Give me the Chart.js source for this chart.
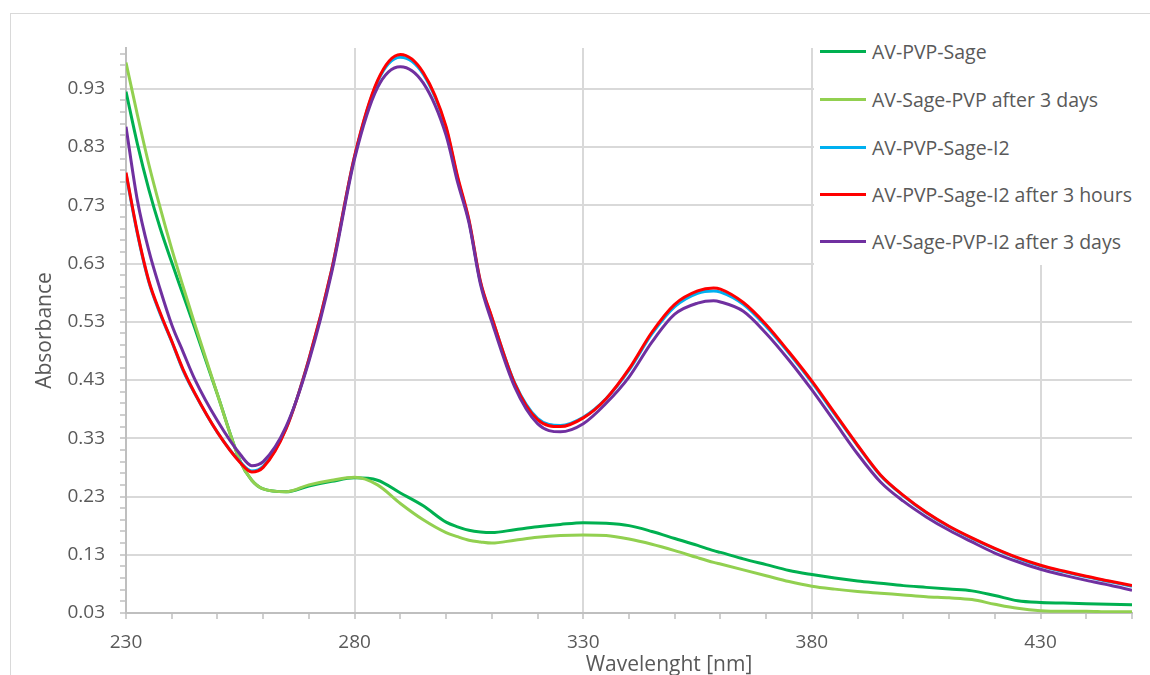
<!DOCTYPE html>
<html>
<head>
<meta charset="utf-8">
<script src="https://cdn.jsdelivr.net/npm/chart.js@4.4.1/dist/chart.umd.min.js"></script>
<style>
  body { margin: 0; overflow: hidden; background: #fff; font-family: "Open Sans", sans-serif; }
  #frame { position: absolute; left: 10px; top: 13px; width: 1200px; height: 720px; border: 1px solid #d9d9d9; }
  #spectra { position: absolute; left: 0; top: 0; }
  #legend { position: absolute; left: 814px; top: 36px; width: 336px; height: 229px; background: #fff; }
  .item { position: absolute; left: 0; height: 24px; display: flex; align-items: center; color: #595959; font-size: 19.5px; white-space: nowrap; }
  .swatch { width: 46px; height: 3px; margin-left: 6px; margin-right: 6px; }
  #xtitle { position: absolute; left: 669px; top: 663px; transform: translate(-50%, -50%); color: #595959; font-size: 21px; white-space: nowrap; }
</style>
</head>
<body>
<div id="frame"></div>
<canvas id="spectra" width="1150" height="675"></canvas>
<div id="legend"></div>
<div id="xtitle">Wavelenght [nm]</div>
<script>
// wavelengths in nm
const wavelengths = [230, 232.5, 235, 237.5, 240, 242.5, 245, 250, 255, 257.5, 260, 265, 270, 275, 280, 285, 290, 295, 300, 302.5, 305, 307.5, 310, 315, 320, 325, 330, 335, 340, 345, 350, 355, 358.5, 360, 365, 370, 375, 380, 385, 390, 395, 400, 405, 410, 415, 420, 425, 430, 435, 440, 445, 450];

const pvpSage = [0.925, 0.835, 0.757, 0.690, 0.632, 0.576, 0.520, 0.405, 0.290, 0.258, 0.243, 0.238, 0.248, 0.256, 0.262, 0.258, 0.236, 0.214, 0.186, 0.178, 0.172, 0.169, 0.168, 0.173, 0.178, 0.182, 0.185, 0.184, 0.180, 0.170, 0.158, 0.146, 0.137, 0.134, 0.123, 0.113, 0.103, 0.096, 0.090, 0.085, 0.081, 0.077, 0.074, 0.071, 0.068, 0.060, 0.051, 0.048, 0.047, 0.046, 0.045, 0.044];
const sagePvp3d = [0.975, 0.885, 0.800, 0.725, 0.655, 0.590, 0.527, 0.405, 0.290, 0.258, 0.243, 0.238, 0.250, 0.258, 0.263, 0.250, 0.218, 0.190, 0.168, 0.161, 0.155, 0.152, 0.150, 0.155, 0.160, 0.163, 0.164, 0.163, 0.157, 0.148, 0.137, 0.125, 0.117, 0.114, 0.104, 0.094, 0.084, 0.076, 0.071, 0.067, 0.064, 0.061, 0.058, 0.056, 0.053, 0.045, 0.038, 0.034, 0.033, 0.033, 0.032, 0.032];
const pvpSageI2 = [0.784, 0.681, 0.598, 0.543, 0.496, 0.446, 0.407, 0.340, 0.289, 0.274, 0.282, 0.347, 0.466, 0.620, 0.814, 0.942, 0.984, 0.955, 0.862, 0.777, 0.703, 0.598, 0.537, 0.425, 0.364, 0.352, 0.366, 0.398, 0.447, 0.509, 0.556, 0.579, 0.583, 0.581, 0.560, 0.522, 0.476, 0.426, 0.371, 0.317, 0.266, 0.231, 0.202, 0.178, 0.158, 0.140, 0.124, 0.111, 0.101, 0.092, 0.084, 0.076];
const pvpSageI2h3 = [0.786, 0.683, 0.600, 0.545, 0.497, 0.448, 0.408, 0.340, 0.288, 0.272, 0.280, 0.346, 0.466, 0.620, 0.815, 0.944, 0.989, 0.958, 0.865, 0.780, 0.705, 0.600, 0.538, 0.424, 0.362, 0.350, 0.365, 0.398, 0.449, 0.512, 0.560, 0.583, 0.588, 0.586, 0.563, 0.525, 0.478, 0.428, 0.373, 0.318, 0.267, 0.232, 0.203, 0.179, 0.159, 0.141, 0.125, 0.112, 0.102, 0.093, 0.085, 0.077];
const sagePvpI2d3 = [0.865, 0.738, 0.652, 0.585, 0.525, 0.478, 0.432, 0.360, 0.302, 0.283, 0.290, 0.350, 0.462, 0.615, 0.810, 0.932, 0.968, 0.940, 0.850, 0.770, 0.700, 0.595, 0.530, 0.418, 0.355, 0.341, 0.355, 0.390, 0.435, 0.495, 0.543, 0.562, 0.566, 0.564, 0.548, 0.510, 0.464, 0.413, 0.358, 0.303, 0.255, 0.222, 0.195, 0.172, 0.152, 0.133, 0.118, 0.105, 0.095, 0.086, 0.078, 0.069];

const seriesNames = ["AV-PVP-Sage", "AV-Sage-PVP after 3 days", "AV-PVP-Sage-I2", "AV-PVP-Sage-I2 after 3 hours", "AV-Sage-PVP-I2 after 3 days"];
const seriesColors = ["#00b050", "#92d050", "#00b0f0", "#ff0000", "#7030a0"];
const seriesValues = [pvpSage, sagePvp3d, pvpSageI2, pvpSageI2h3, sagePvpI2d3];

const xTickLabels = [230, 280, 330, 380, 430];
const yTickLabels = ["0.03", "0.13", "0.23", "0.33", "0.43", "0.53", "0.63", "0.73", "0.83", "0.93"];

const FONT = "'Open Sans', sans-serif";
const TEXT = "#595959";

// minor ticks: every 10 nm on x, every 0.02 on y
const xMinor = [];
for (let v = 230; v <= 450; v += 10) xMinor.push(v);
const yMinor = [];
for (let k = 0; k <= 48; k++) yMinor.push(Math.round((0.03 + 0.02 * k) * 100) / 100);

const isMajorX = v => xTickLabels.includes(v);
const yLabelFor = v => yTickLabels.find(l => Math.abs(Number(l) - v) < 1e-6);

// html legend
const legendEl = document.getElementById("legend");
const rowCenters = [15, 63, 111, 158, 205];
seriesNames.forEach((name, i) => {
  const row = document.createElement("div");
  row.className = "item";
  row.style.top = (rowCenters[i] - 12) + "px";
  row.innerHTML = '<span class="swatch" style="background:' + seriesColors[i] + '"></span>' + name;
  legendEl.appendChild(row);
});

const datasets = seriesNames.map((name, i) => ({
  label: name,
  data: wavelengths.map((w, j) => ({ x: w, y: seriesValues[i][j] })),
  borderColor: seriesColors[i],
  borderWidth: 3,
  pointRadius: 0,
  cubicInterpolationMode: "monotone",
  order: seriesNames.length - i, // later series drawn on top
}));

new Chart(document.getElementById("spectra").getContext("2d"), {
  type: "line",
  data: { datasets },
  options: {
    responsive: false,
    animation: false,
    layout: { padding: { left: 0, top: 48, right: 18, bottom: 0 } },
    plugins: { legend: { display: false }, tooltip: { enabled: false } },
    scales: {
      x: {
        type: "linear",
        min: 230,
        max: 450,
        afterBuildTicks: s => { s.ticks = xMinor.map(v => ({ value: v })); },
        afterFit: s => { s.height = 62; },
        ticks: {
          autoSkip: false,
          maxRotation: 0,
          padding: 12,
          color: TEXT,
          font: { family: FONT, size: 19 },
          callback: v => (isMajorX(v) ? String(v) : ""),
        },
        grid: {
          color: ctx => (ctx.tick && isMajorX(ctx.tick.value) ? "#d9d9d9" : "rgba(0,0,0,0)"),
          lineWidth: 2,
          tickLength: 6,
          tickColor: "#bfbfbf",
          tickWidth: 1.5,
        },
        border: { color: "#bfbfbf", width: 2 },
      },
      y: {
        min: 0.03,
        max: 1.0,
        afterBuildTicks: s => { s.ticks = yMinor.map(v => ({ value: v })); },
        afterFit: s => { s.width = 126; },
        ticks: {
          autoSkip: false,
          padding: 15,
          color: TEXT,
          font: { family: FONT, size: 19 },
          callback: v => yLabelFor(v) || "",
        },
        grid: {
          color: ctx => (ctx.tick && yLabelFor(ctx.tick.value) ? "#d9d9d9" : "rgba(0,0,0,0)"),
          lineWidth: 2,
          tickLength: 6,
          tickColor: "#bfbfbf",
          tickWidth: 1.5,
        },
        border: { color: "#bfbfbf", width: 2 },
        title: {
          display: true,
          text: "Absorbance",
          color: TEXT,
          font: { family: FONT, size: 21 },
          padding: { top: 32, bottom: 0 },
        },
      },
    },
  },
});
</script>
</body>
</html>
